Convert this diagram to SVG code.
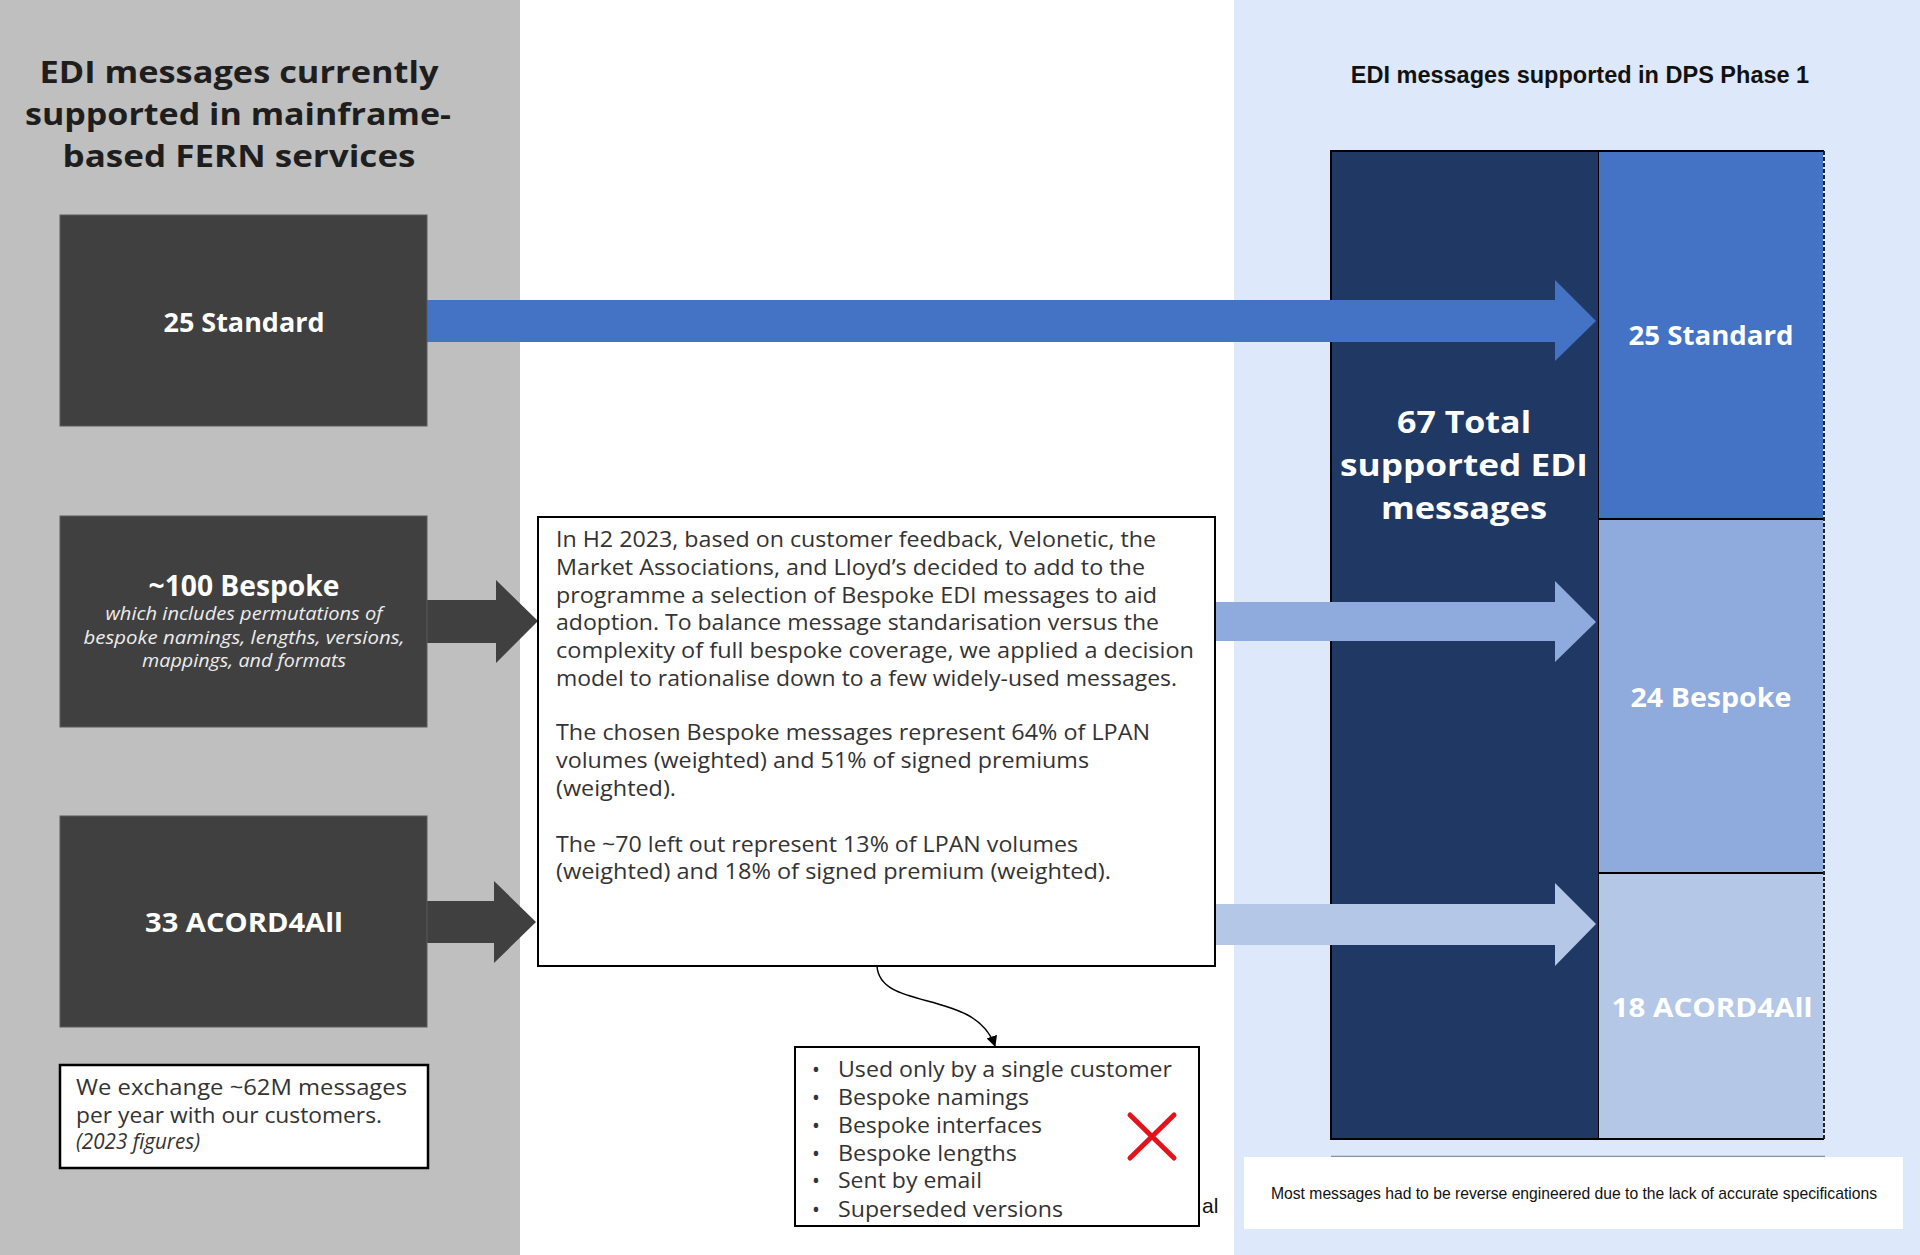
<svg xmlns="http://www.w3.org/2000/svg" width="1920" height="1255" viewBox="0 0 1920 1255">
<defs>
<style>
.ttl{font-family:"Open Sans",Lato,sans-serif;font-weight:700;fill:#1e1e1e;text-anchor:middle;font-size:31px}
.lbl{font-family:"Open Sans",Lato,sans-serif;font-weight:700;fill:#ffffff;text-anchor:middle}
.sub{font-family:"Open Sans",Lato,sans-serif;font-style:italic;fill:#ececec;text-anchor:middle;font-size:17.5px}
.body{font-family:"Open Sans",Lato,sans-serif;fill:#333333;font-size:21px}
.dark{fill:#404040;stroke:#5a5a5a;stroke-width:1}
.arial{font-family:"Liberation Sans",Arial,sans-serif}
</style>
<marker id="ah" viewBox="0 0 10 10" refX="9" refY="5" markerWidth="11" markerHeight="11" markerUnits="userSpaceOnUse" orient="auto">
<path d="M0,0 L10,5 L0,10 z" fill="#000"/>
</marker>
</defs>
<rect x="0" y="0" width="1920" height="1255" fill="#ffffff"/>
<rect x="0" y="0" width="520" height="1255" fill="#bfbfbf"/>
<rect x="1234" y="0" width="686" height="1255" fill="#dde9fa"/>

<g id="title-left">
<text class="ttl" x="239" y="83" textLength="399" lengthAdjust="spacingAndGlyphs">EDI messages currently</text>
<text class="ttl" x="238" y="125" textLength="426" lengthAdjust="spacingAndGlyphs">supported in mainframe-</text>
<text class="ttl" x="239" y="167" textLength="353" lengthAdjust="spacingAndGlyphs">based FERN services</text>
</g>
<g id="title-right">
<text class="arial" x="1580" y="83" font-size="23.5" font-weight="700" text-anchor="middle" fill="#111">EDI messages supported in DPS Phase 1</text>
</g>

<g id="chart">
<rect x="1331" y="151" width="268" height="988" fill="#203864" stroke="#000" stroke-width="2"/>
<rect x="1599" y="151" width="224" height="368" fill="#4472C4"/>
<rect x="1599" y="519" width="224" height="354" fill="#8FAADC"/>
<rect x="1599" y="873" width="224" height="266" fill="#B4C7E7"/>
<line x1="1599" y1="151" x2="1824" y2="151" stroke="#000" stroke-width="2"/>
<line x1="1599" y1="519" x2="1824" y2="519" stroke="#000" stroke-width="2"/>
<line x1="1599" y1="873" x2="1824" y2="873" stroke="#000" stroke-width="2"/>
<line x1="1599" y1="1139" x2="1824" y2="1139" stroke="#000" stroke-width="2"/>
<line x1="1824" y1="151" x2="1824" y2="1139" stroke="#222" stroke-width="2" stroke-dasharray="4,2"/>
<line x1="1331" y1="1156.5" x2="1825" y2="1156.5" stroke="#8393ad" stroke-width="1.5"/>
</g>
<g id="total">
<text class="lbl" x="1464" y="433" font-size="31" textLength="134" lengthAdjust="spacingAndGlyphs">67 Total</text>
<text class="lbl" x="1464" y="476" font-size="31" textLength="248" lengthAdjust="spacingAndGlyphs">supported EDI</text>
<text class="lbl" x="1464" y="519" font-size="31" textLength="166" lengthAdjust="spacingAndGlyphs">messages</text>
</g>

<g id="connectors">
<polygon points="427,300 1555,300 1555,280 1596,321 1555,361 1555,342 427,342" fill="#4472C4"/>
<polygon points="427,600 496,600 496,580 538,621 496,663 496,643 427,643" fill="#404040"/>
<polygon points="427,901 494,901 494,881 536,922 494,963 494,943 427,943" fill="#404040"/>
<polygon points="1216,602 1555,602 1555,581 1596,622 1555,662 1555,641 1216,641" fill="#8FAADC"/>
<polygon points="1216,904 1555,904 1555,883 1596,924 1555,966 1555,945 1216,945" fill="#B4C7E7"/>
<path d="M877,966 C880,1012 975,988 995,1046" fill="none" stroke="#000" stroke-width="1.5" marker-end="url(#ah)"/>
</g>

<g id="right-standard"><text class="lbl" x="1711" y="345" font-size="27" textLength="165" lengthAdjust="spacingAndGlyphs">25 Standard</text></g>
<g id="right-bespoke"><text class="lbl" x="1711" y="707" font-size="27" textLength="161" lengthAdjust="spacingAndGlyphs">24 Bespoke</text></g>
<g id="right-acord"><text class="lbl" x="1712" y="1017" font-size="27" textLength="201" lengthAdjust="spacingAndGlyphs">18 ACORD4All</text></g>

<g id="box-standard">
<rect class="dark" x="60" y="215" width="367" height="211"/>
<text class="lbl" x="244" y="332" font-size="27" textLength="161" lengthAdjust="spacingAndGlyphs">25 Standard</text>
</g>
<g id="box-bespoke">
<rect class="dark" x="60" y="516" width="367" height="211"/>
<text class="lbl" x="244" y="596" font-size="28" textLength="191" lengthAdjust="spacingAndGlyphs">~100 Bespoke</text>
<text class="sub" x="244" y="620" textLength="277" lengthAdjust="spacingAndGlyphs">which includes permutations of</text>
<text class="sub" x="244" y="644" textLength="321" lengthAdjust="spacingAndGlyphs">bespoke namings, lengths, versions,</text>
<text class="sub" x="244" y="667" textLength="204" lengthAdjust="spacingAndGlyphs">mappings, and formats</text>
</g>
<g id="box-acord">
<rect class="dark" x="60" y="816" width="367" height="211"/>
<text class="lbl" x="244" y="932" font-size="27" textLength="198" lengthAdjust="spacingAndGlyphs">33 ACORD4All</text>
</g>
<g id="note-left">
<rect x="60" y="1065" width="368" height="103" fill="#fff" stroke="#000" stroke-width="2.5"/>
<text class="body" x="76" y="1095" font-size="20.5" textLength="331" lengthAdjust="spacingAndGlyphs">We exchange ~62M messages</text>
<text class="body" x="76" y="1123" font-size="20.5" textLength="306" lengthAdjust="spacingAndGlyphs">per year with our customers.</text>
<text class="body" x="76" y="1149" font-size="17" font-style="italic" textLength="124" lengthAdjust="spacingAndGlyphs">(2023 figures)</text>
</g>

<g id="middle-box">
<rect x="538" y="517" width="677" height="449" fill="#fff" stroke="#000" stroke-width="2"/>
<text class="body" x="556" y="547" textLength="600" lengthAdjust="spacingAndGlyphs">In H2 2023, based on customer feedback, Velonetic, the</text>
<text class="body" x="556" y="575" textLength="589" lengthAdjust="spacingAndGlyphs">Market Associations, and Lloyd’s decided to add to the</text>
<text class="body" x="556" y="603" textLength="601" lengthAdjust="spacingAndGlyphs">programme a selection of Bespoke EDI messages to aid</text>
<text class="body" x="556" y="630" textLength="603" lengthAdjust="spacingAndGlyphs">adoption. To balance message standarisation versus the</text>
<text class="body" x="556" y="658" textLength="638" lengthAdjust="spacingAndGlyphs">complexity of full bespoke coverage, we applied a decision</text>
<text class="body" x="556" y="686" textLength="621" lengthAdjust="spacingAndGlyphs">model to rationalise down to a few widely-used messages.</text>
<text class="body" x="556" y="740" textLength="594" lengthAdjust="spacingAndGlyphs">The chosen Bespoke messages represent 64% of LPAN</text>
<text class="body" x="556" y="768" textLength="533" lengthAdjust="spacingAndGlyphs">volumes (weighted) and 51% of signed premiums</text>
<text class="body" x="556" y="796" textLength="120" lengthAdjust="spacingAndGlyphs">(weighted).</text>
<text class="body" x="556" y="852" textLength="522" lengthAdjust="spacingAndGlyphs">The ~70 left out represent 13% of LPAN volumes</text>
<text class="body" x="556" y="879" textLength="555" lengthAdjust="spacingAndGlyphs">(weighted) and 18% of signed premium (weighted).</text>
</g>

<g id="excluded-box">
<rect x="795" y="1047" width="404" height="179" fill="#fff" stroke="#000" stroke-width="2"/>
<g class="body">
<text x="812" y="1077">•</text><text x="838" y="1077" textLength="334" lengthAdjust="spacingAndGlyphs">Used only by a single customer</text>
<text x="812" y="1105">•</text><text x="838" y="1105" textLength="191" lengthAdjust="spacingAndGlyphs">Bespoke namings</text>
<text x="812" y="1133">•</text><text x="838" y="1133" textLength="204" lengthAdjust="spacingAndGlyphs">Bespoke interfaces</text>
<text x="812" y="1161">•</text><text x="838" y="1161" textLength="179" lengthAdjust="spacingAndGlyphs">Bespoke lengths</text>
<text x="812" y="1188">•</text><text x="838" y="1188" textLength="144" lengthAdjust="spacingAndGlyphs">Sent by email</text>
<text x="812" y="1217">•</text><text x="838" y="1217" textLength="225" lengthAdjust="spacingAndGlyphs">Superseded versions</text>
</g>
<g stroke="#e3131b" stroke-width="5" stroke-linecap="round">
<line x1="1130" y1="1115" x2="1174" y2="1158"/>
<line x1="1174" y1="1115" x2="1130" y2="1158"/>
</g>
</g>
<g id="fragment">
<text class="arial" x="1202" y="1213" font-size="21" fill="#111">al</text>
</g>

<g id="note-right">
<rect x="1244" y="1157" width="659" height="72" fill="#fff"/>
<text class="arial" x="1574" y="1199" font-size="15.7" text-anchor="middle" fill="#111">Most messages had to be reverse engineered due to the lack of accurate specifications</text>
</g>
</svg>
